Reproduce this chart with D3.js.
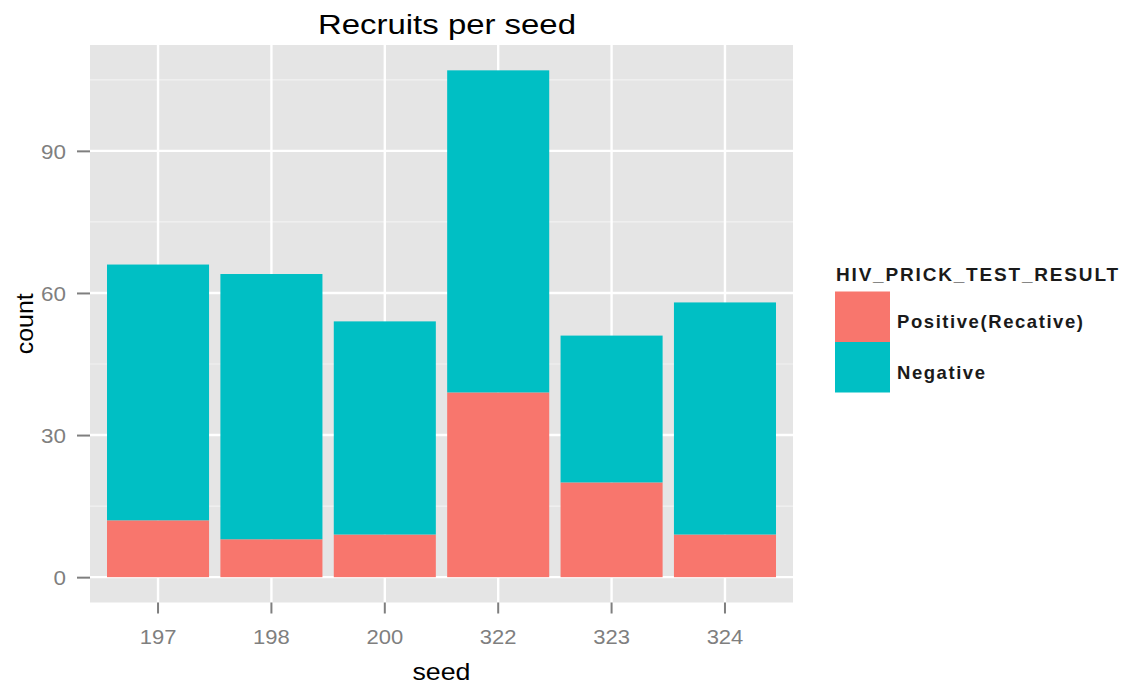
<!DOCTYPE html>
<html>
<head>
<meta charset="utf-8">
<script src="https://cdn.jsdelivr.net/npm/d3@7"></script>
<style>
  html, body { margin: 0; padding: 0; background: #ffffff; }
  svg { display: block; font-family: "Liberation Sans", Arial, Helvetica, sans-serif; }
</style>
</head>
<body>
<svg id="chart" width="1123" height="684"></svg>
<script>
// Recruits per seed, split by HIV prick test result
const seeds = ["197", "198", "200", "322", "323", "324"];
const positive = [12, 8, 9, 39, 20, 9];
const negative = [54, 56, 45, 68, 31, 49];
const resultLabels = ["Positive(Recative)", "Negative"];
const resultKeys = ["positive", "negative"];
const resultColors = ["#F8766D", "#00BFC4"];
const yMajorTicks = [0, 30, 60, 90];
const yMinorTicks = [15, 45, 75, 105];

const svg = d3.select("#chart");
const panel = { left: 90, right: 793, top: 45, bottom: 602.5 };

// widen glyphs horizontally by a factor (text is drawn slightly stretched)
function stretch(sel, factor) {
  sel.each(function () {
    const w = this.getComputedTextLength();
    d3.select(this).attr("textLength", w * factor).attr("lengthAdjust", "spacingAndGlyphs");
  });
}

const rows = seeds.map((s, i) => ({ seed: s, positive: positive[i], negative: negative[i] }));
const stacked = d3.stack().keys(resultKeys)(rows);
const maxTotal = d3.max(rows, d => d.positive + d.negative);
const pad = maxTotal * 0.05;

const x = d3.scaleBand()
  .domain(seeds)
  .range([panel.left, panel.right])
  .paddingInner(0.1)
  .paddingOuter(0.15);

const y = d3.scaleLinear()
  .domain([-pad, maxTotal + pad])
  .range([panel.bottom, panel.top]);

const color = d3.scaleOrdinal().domain(resultKeys).range(resultColors);

// panel background
svg.append("rect")
  .attr("x", panel.left).attr("y", panel.top)
  .attr("width", panel.right - panel.left)
  .attr("height", panel.bottom - panel.top)
  .attr("fill", "#E5E5E5");

// minor grid
svg.append("g").selectAll("line").data(yMinorTicks).join("line")
  .attr("x1", panel.left).attr("x2", panel.right)
  .attr("y1", d => y(d)).attr("y2", d => y(d))
  .attr("stroke", "#F2F2F2").attr("stroke-width", 1.2);

// major grid
svg.append("g").selectAll("line").data(yMajorTicks).join("line")
  .attr("x1", panel.left).attr("x2", panel.right)
  .attr("y1", d => y(d)).attr("y2", d => y(d))
  .attr("stroke", "#FFFFFF").attr("stroke-width", 2.4);

svg.append("g").selectAll("line").data(seeds).join("line")
  .attr("x1", d => x(d) + x.bandwidth() / 2).attr("x2", d => x(d) + x.bandwidth() / 2)
  .attr("y1", panel.top).attr("y2", panel.bottom)
  .attr("stroke", "#FFFFFF").attr("stroke-width", 2.4);

// stacked bars
svg.append("g").selectAll("g").data(stacked).join("g")
  .attr("fill", d => color(d.key))
  .selectAll("rect").data(d => d).join("rect")
  .attr("x", d => x(d.data.seed))
  .attr("width", x.bandwidth())
  .attr("y", d => y(d[1]))
  .attr("height", d => y(d[0]) - y(d[1]));

// axes
const xAxis = svg.append("g")
  .attr("transform", `translate(0,${panel.bottom})`)
  .call(d3.axisBottom(x).tickSize(11).tickPadding(16.5));
const yAxis = svg.append("g")
  .attr("transform", `translate(${panel.left},0)`)
  .call(d3.axisLeft(y).tickValues(yMajorTicks).tickSize(13).tickPadding(11));

[xAxis, yAxis].forEach(a => {
  a.select(".domain").remove();
  a.selectAll(".tick line").attr("stroke", "#7F7F7F").attr("stroke-width", 2);
  a.selectAll(".tick text")
    .attr("fill", "#7F7F7F")
    .style("font-size", "20px")
    .style("font-family", "'Liberation Sans', Arial, sans-serif");
});
xAxis.selectAll(".tick text").attr("dy", "0.71em");
yAxis.selectAll(".tick text").attr("dy", "0.36em");
stretch(xAxis.selectAll(".tick text"), 1.1);
stretch(yAxis.selectAll(".tick text"), 1.12);

// titles
const title = svg.append("text")
  .attr("x", 447).attr("y", 34.3)
  .attr("text-anchor", "middle")
  .style("font-size", "27px")
  .attr("fill", "#000")
  .text("Recruits per seed");
title.attr("textLength", 258).attr("lengthAdjust", "spacingAndGlyphs");

svg.append("text")
  .attr("x", 441.5).attr("y", 680)
  .attr("text-anchor", "middle")
  .style("font-size", "24px")
  .attr("fill", "#000")
  .attr("textLength", 58).attr("lengthAdjust", "spacingAndGlyphs")
  .text("seed");

svg.append("text")
  .attr("transform", `translate(33,${(panel.top + panel.bottom) / 2}) rotate(-90)`)
  .attr("text-anchor", "middle")
  .style("font-size", "24px")
  .attr("fill", "#000")
  .attr("textLength", 61).attr("lengthAdjust", "spacingAndGlyphs")
  .text("count");

// legend
const legend = svg.append("g").attr("transform", "translate(835,0)");
legend.append("text")
  .attr("x", 1).attr("y", 281)
  .style("font-size", "19px").style("font-weight", "bold")
  .attr("fill", "#1a1a1a")
  .attr("textLength", 282).attr("lengthAdjust", "spacing")
  .text("HIV_PRICK_TEST_RESULT");

const keyH = 50.5, keyW = 55, keyTop = 291.5;
const labelWidths = [186, 88];
const items = legend.selectAll("g.item").data(resultKeys).join("g")
  .attr("class", "item")
  .attr("transform", (d, i) => `translate(0,${keyTop + i * keyH})`);
items.append("rect")
  .attr("width", keyW).attr("height", keyH)
  .attr("fill", d => color(d));
items.append("text")
  .attr("x", keyW + 7).attr("y", 36.5)
  .style("font-size", "18.5px").style("font-weight", "bold")
  .attr("fill", "#1a1a1a")
  .attr("textLength", (d, i) => labelWidths[i]).attr("lengthAdjust", "spacing")
  .text((d, i) => resultLabels[i]);
</script>
</body>
</html>
